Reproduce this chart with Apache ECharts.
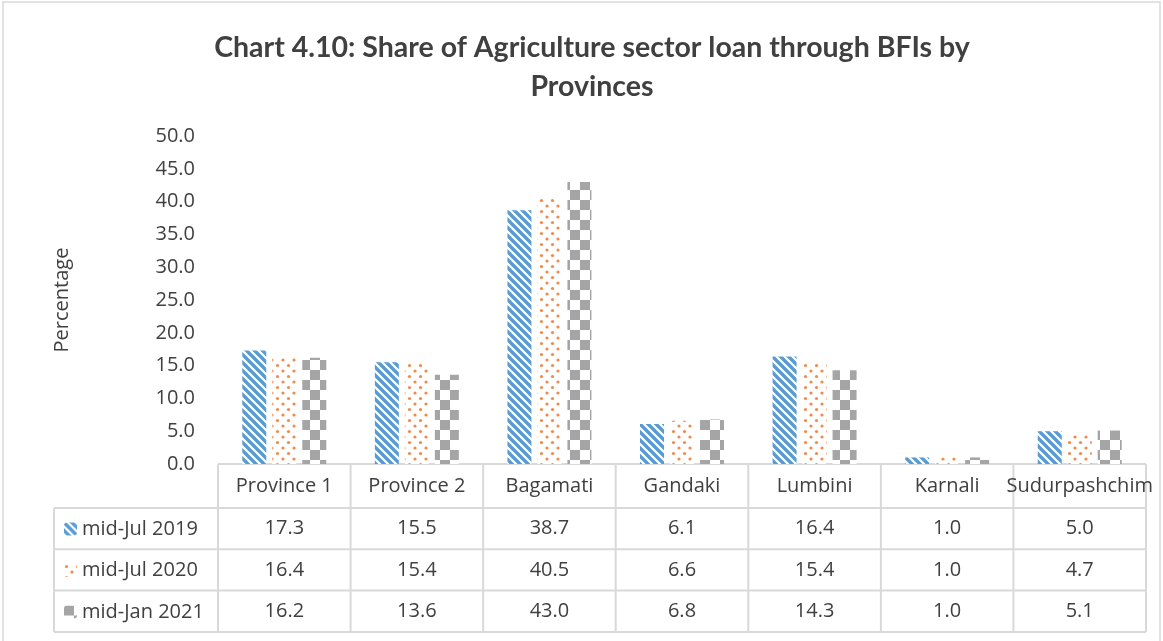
<!DOCTYPE html>
<html>
<head>
<meta charset="utf-8">
<script src="https://cdn.jsdelivr.net/npm/echarts@6/dist/echarts.min.js"></script>
<style>
html,body{margin:0;padding:0;background:#fff;}
#main{width:1163px;height:641px;}
</style>
</head>
<body>
<div id="main"></div>
<script>
// ---- data ----
const categories = ['Province 1', 'Province 2', 'Bagamati', 'Gandaki', 'Lumbini', 'Karnali', 'Sudurpashchim'];
const seriesNames = ['mid-Jul 2019', 'mid-Jul 2020', 'mid-Jan 2021'];
const midJul2019 = [17.3, 15.5, 38.7, 6.1, 16.4, 1.0, 5.0];
const midJul2020 = [16.4, 15.4, 40.5, 6.6, 15.4, 1.0, 4.7];
const midJan2021 = [16.2, 13.6, 43.0, 6.8, 14.3, 1.0, 5.1];
const yTicks = { min: 0, max: 50, interval: 5 };
const titleText = 'Chart 4.10: Share of Agriculture sector loan through BFIs by\nProvinces';
const yAxisTitle = 'Percentage';

// ---- patterns ----
function stripePattern() {
  const c = document.createElement('canvas'); c.width = 8; c.height = 8;
  const g = c.getContext('2d');
  g.fillStyle = '#ffffff'; g.fillRect(0, 0, 8, 8);
  g.strokeStyle = '#5B9BD5'; g.lineWidth = 3.4;
  for (let k = -1; k <= 1; k++) { g.beginPath(); g.moveTo(k * 8 - 1, -1); g.lineTo(k * 8 + 9, 9); g.stroke(); }
  return c;
}
function dotPattern() {
  const c = document.createElement('canvas'); c.width = 11; c.height = 11;
  const g = c.getContext('2d');
  g.fillStyle = '#ffffff'; g.fillRect(0, 0, 11, 11);
  g.fillStyle = '#F08A4B';
  [[2.5, 2.5], [8, 8]].forEach(p => { g.beginPath(); g.arc(p[0], p[1], 1.6, 0, Math.PI * 2); g.fill(); });
  return c;
}
function checkerPattern() {
  const c = document.createElement('canvas'); c.width = 20; c.height = 20;
  const g = c.getContext('2d');
  g.fillStyle = '#ffffff'; g.fillRect(0, 0, 20, 20);
  g.fillStyle = '#A5A5A5'; g.fillRect(0, 0, 10, 10); g.fillRect(10, 10, 10, 10);
  return c;
}
const fills = [
  { image: stripePattern(), repeat: 'repeat' },
  { image: dotPattern(), repeat: 'repeat' },
  { image: checkerPattern(), repeat: 'repeat' }
];
const seriesData = [midJul2019, midJul2020, midJan2021];

const textColor = '#404040';
const bodyFont = '"Open Sans", "DejaVu Sans", sans-serif';
const lineColor = '#D9D9D9';

const chart = echarts.init(document.getElementById('main'), null, { renderer: 'canvas' });

chart.setOption({
  backgroundColor: '#ffffff',
  animation: false,
  title: {
    text: titleText,
    left: 592, top: 28, padding: 0,
    textAlign: 'center',
    textStyle: { fontFamily: 'Lato, "Open Sans", sans-serif', fontWeight: 'bold', fontSize: 28.5, lineHeight: 39, color: textColor }
  },
  legend: {
    orient: 'vertical', left: 64, top: 519, padding: 0,
    itemWidth: 13, itemHeight: 13, itemGap: 21.5,
    selectedMode: false,
    textStyle: { fontFamily: bodyFont, fontSize: 20, lineHeight: 20, color: textColor },
    data: seriesNames
  },
  grid: { left: 218, right: 17, top: 136, bottom: 177, containLabel: false },
  xAxis: {
    type: 'category', data: categories,
    axisLine: { show: false }, axisTick: { show: false },
    axisLabel: { fontFamily: bodyFont, fontSize: 20, color: textColor, margin: 12, interval: 0 }
  },
  yAxis: {
    type: 'value', min: yTicks.min, max: yTicks.max, interval: yTicks.interval,
    name: yAxisTitle, nameLocation: 'middle', nameGap: 146,
    nameTextStyle: { fontFamily: bodyFont, fontSize: 20, color: textColor },
    axisLine: { show: false }, axisTick: { show: false }, splitLine: { show: false },
    axisLabel: { fontFamily: bodyFont, fontSize: 20, color: textColor, margin: 23, formatter: v => v.toFixed(1) }
  },
  series: seriesNames.map((n, i) => ({
    name: n, type: 'bar', data: seriesData[i],
    barWidth: 24, barGap: '25%',
    itemStyle: { color: fills[i] },
    emphasis: { disabled: true }
  }))
});

// ---- data table drawn under the axis ----
function buildTable() {
  const c0 = chart.convertToPixel({ xAxisIndex: 0 }, 0);
  const c1 = chart.convertToPixel({ xAxisIndex: 0 }, 1);
  const bw = c1 - c0;
  const left = c0 - bw / 2;
  const right = left + bw * categories.length;
  const y0 = chart.convertToPixel({ yAxisIndex: 0 }, 0);
  const headerH = 44, rowH = 41.3, labelLeft = 54;
  const rowTops = [y0 + headerH, y0 + headerH + rowH, y0 + headerH + 2 * rowH, y0 + headerH + 3 * rowH];
  const bottom = rowTops[3];
  const ls = { stroke: lineColor, lineWidth: 2 };
  const els = [];
  els.push({ type: 'rect', shape: { x: 3, y: 2, width: 1157, height: 660 }, style: { fill: 'none', stroke: lineColor, lineWidth: 1.5 }, silent: true, z: -1 });
  els.push({ type: 'line', shape: { x1: left, y1: y0, x2: right, y2: y0 }, style: ls, silent: true });
  rowTops.forEach(t => els.push({ type: 'line', shape: { x1: labelLeft, y1: t, x2: right, y2: t }, style: ls, silent: true }));
  for (let i = 0; i <= categories.length; i++) {
    const x = left + bw * i;
    els.push({ type: 'line', shape: { x1: x, y1: y0, x2: x, y2: bottom }, style: ls, silent: true });
  }
  els.push({ type: 'line', shape: { x1: labelLeft, y1: rowTops[0], x2: labelLeft, y2: bottom }, style: ls, silent: true });
  seriesData.forEach((arr, r) => {
    const cy = (rowTops[r] + rowTops[r + 1]) / 2;
    arr.forEach((v, i) => {
      const cx = chart.convertToPixel({ xAxisIndex: 0 }, i);
      els.push({
        type: 'text', silent: true,
        style: { text: v.toFixed(1), x: cx, y: cy, align: 'center', verticalAlign: 'middle', textAlign: 'center', textVerticalAlign: 'middle', fill: textColor, fontSize: 20, fontFamily: bodyFont }
      });
    });
  });
  chart.setOption({ graphic: els });
}
buildTable();
</script>
</body>
</html>
